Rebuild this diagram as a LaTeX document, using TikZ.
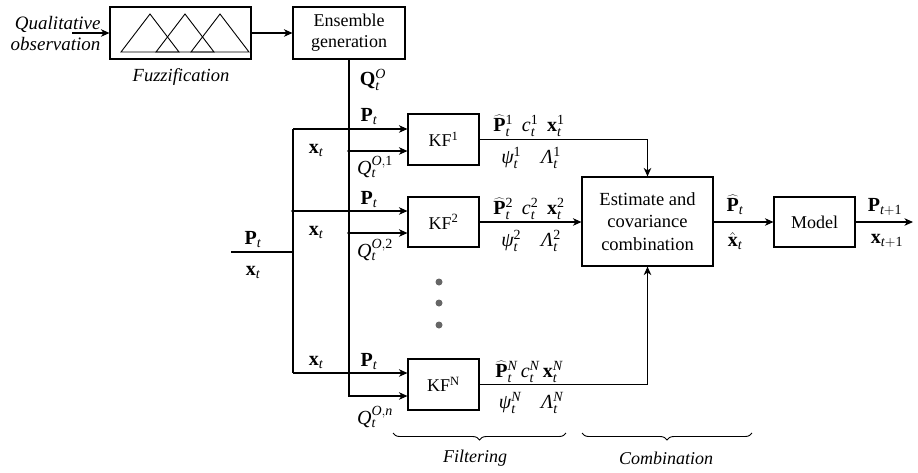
\documentclass[tikz,border=0pt]{standalone}
\usepackage{fix-cm}
\usepackage{fontspec}
\setmainfont{Liberation Serif}
\usetikzlibrary{arrows.meta,decorations.pathreplacing,calc}
\DeclareMathSizes{20}{20}{14}{10}
\newcommand{\mT}{\mathit{t}}
\newcommand{\mpsi}{\mbox{\itshape ψ}}
\newcommand{\mLam}{\mbox{\itshape Λ}}
\newcommand{\mc}{\mathit{c}}
\begin{document}
\begin{tikzpicture}[x=1pt,y=-1pt, line width=1.1pt,
  every node/.style={font=\fontsize{18}{21}\selectfont, inner sep=0pt},
  blk/.style={draw, line width=1.1pt, rectangle, align=center},
  arr/.style={-{Stealth[length=8.5pt,width=7.5pt,inset=2.5pt]}},
  ital/.style={font=\fontsize{18}{21}\selectfont\itshape},
  jdot/.style={circle, fill=black, minimum size=3.6pt},
  gdot/.style={circle, fill=black!60, minimum size=7pt},
  brc/.style={decorate, decoration={brace, amplitude=7pt}, line width=0.9pt},
  tri/.style={line width=0.9pt, line join=miter},
  mlab/.style={font=\fontsize{20}{22}\selectfont}
  ]
\useasboundingbox (0,0) rectangle (918,472);

% top row
\node[blk, minimum width=141pt, minimum height=52pt] (fuzz) at (180.5,33) {};
\draw[tri] (121,52) -- (150,14) -- (179,52) -- cycle;
\draw[tri] (156,52) -- (185,14) -- (214,52) -- cycle;
\draw[tri] (191,52) -- (220,14) -- (249,52) -- cycle;
\node[blk, minimum width=112pt, minimum height=52pt] (ens) at (349,33) {Ensemble\\generation};
\node[ital, align=right, anchor=east, font=\fontsize{19}{21}\selectfont\itshape] (qual) at (101,34) {Qualitative\\observation};
\node[ital, font=\fontsize{18.5}{21}\selectfont\itshape] (fuzzl) at (181,77) {Fuzzification};
\coordinate (qin) at (72,33);
\draw[arr] (qin) -- (fuzz.west);
\draw[arr] (fuzz) -- (ens);

% blocks
\node[blk, minimum width=71pt, minimum height=51pt] (kf1) at (443.5,139.5) {KF\textsuperscript{1}};
\node[blk, minimum width=71pt, minimum height=50pt] (kf2) at (443.5,222) {KF\textsuperscript{2}};
\node[blk, minimum width=71pt, minimum height=51pt] (kfN) at (443.5,384.5) {KF\textsuperscript{N}};
\node[blk, minimum width=131pt, minimum height=89pt, font=\fontsize{18.5}{22.5}\selectfont] (comb) at (647.5,221.5) {Estimate and\\covariance\\combination};
\node[blk, minimum width=81pt, minimum height=50pt] (model) at (814.5,222) {Model};

% left input structure
\coordinate (pin) at (231,252);
\coordinate (vj) at (293,252);
\coordinate (vtop) at (293,129);
\coordinate (vbot) at (293,373);
\draw (pin) -- (vj);
\draw (vtop) -- (vbot);
\draw[arr] (vtop) -- (vtop -| kf1.west);
\draw[arr] (vbot) -- (vbot -| kfN.west);
\node[jdot] (d1) at (293,211) {};
\draw[arr] (d1.center) -- (d1 -| kf2.west);

% Q line
\coordinate (qbot) at (349,396);
\draw[arr] (ens.south) -- (qbot) -- (qbot -| kfN.west);
\node[jdot] (q1) at (349,151) {};
\node[jdot] (q2) at (349,233) {};
\draw[arr] (q1.center) -- (q1 -| kf1.west);
\draw[arr] (q2.center) -- (q2 -| kf2.west);

% ellipsis dots
\node[gdot] (e1) at (439,282) {};
\node[gdot] (e2) at (439,303) {};
\node[gdot] (e3) at (439,325) {};

% outputs
\draw[arr] (kf1.east) -| (comb.north);
\draw[arr] (kf2.east) -- (kf2.east -| comb.west);
\draw[arr] (kfN.east) -| (comb.south);
\draw[arr] (comb.east |- model.west) -- (model.west);
\coordinate (out) at (913,222);
\draw[arr] (model.east) -- (out);

% labels
\node[mlab] (lqo) at (373,80) {$\mathbf{Q}_{\mT}^{\mathit{O}}$};
\node[mlab] (lp0) at (253,240) {$\mathbf{P}_{\mT}$};
\node[mlab] (lx0) at (253,272) {$\mathbf{x}_{\mT}$};
\node[mlab] (lp1) at (369,117) {$\mathbf{P}_{\mT}$};
\node[mlab] (lx1) at (316,150) {$\mathbf{x}_{\mT}$};
\node[mlab] (lq1) at (375,167) {$\mathit{Q}_{\mT}^{\mathit{O},\mathrm{1}}$};
\node[mlab] (lp2) at (369,200) {$\mathbf{P}_{\mT}$};
\node[mlab] (lx2) at (316,232) {$\mathbf{x}_{\mT}$};
\node[mlab] (lq2) at (375,250) {$\mathit{Q}_{\mT}^{\mathit{O},\mathrm{2}}$};
\node[mlab] (lx3) at (316,362) {$\mathbf{x}_{\mT}$};
\node[mlab] (lp3) at (369,362) {$\mathbf{P}_{\mT}$};
\node[mlab] (lq3) at (375,417) {$\mathit{Q}_{\mT}^{\mathit{O},\mathit{n}}$};

\node[mlab] (o1a) at (529,126) {$\widehat{\mathbf{P}}_{\mT}^{\mathrm{1}}\;\, \mc_{\mT}^{\mathrm{1}}\;\, \mathbf{x}_{\mT}^{\mathrm{1}}$};
\node[mlab] (o1b) at (531,158) {$\mpsi_{\mT}^{\mathrm{1}}\quad \mLam_{\mT}^{\mathrm{1}}$};
\node[mlab] (o2a) at (529,209) {$\widehat{\mathbf{P}}_{\mT}^{\mathrm{2}}\;\, \mc_{\mT}^{\mathrm{2}}\;\, \mathbf{x}_{\mT}^{\mathrm{2}}$};
\node[mlab] (o2b) at (531,241) {$\mpsi_{\mT}^{\mathrm{2}}\quad \mLam_{\mT}^{\mathrm{2}}$};
\node[mlab] (oNa) at (529,372) {$\widehat{\mathbf{P}}_{\mT}^{\mathit{N}}\, \mc_{\mT}^{\mathit{N}}\, \mathbf{x}_{\mT}^{\mathit{N}}$};
\node[mlab] (oNb) at (531,403) {$\mpsi_{\mT}^{\mathit{N}}\quad \mLam_{\mT}^{\mathit{N}}$};

\node[mlab] (lpc) at (735,205) {$\widehat{\mathbf{P}}_{\mT}$};
\node[mlab] (lxc) at (735,241) {$\hat{\mathbf{x}}_{\mT}$};
\node[mlab] (lpm) at (885,207) {$\mathbf{P}_{\mT+\mathrm{1}}$};
\node[mlab] (lxm) at (887,241) {$\mathbf{x}_{\mT+\mathrm{1}}$};

% braces
\coordinate (bf1) at (566,433);
\coordinate (bf2) at (393,433);
\coordinate (bc1) at (752,433);
\coordinate (bc2) at (582,433);
\draw[brc] (bf1) -- (bf2);
\draw[brc] (bc1) -- (bc2);
\node[ital] (filt) at (475,458) {Filtering};
\node[ital] (combl) at (666,458) {Combination};
\end{tikzpicture}
\end{document}
